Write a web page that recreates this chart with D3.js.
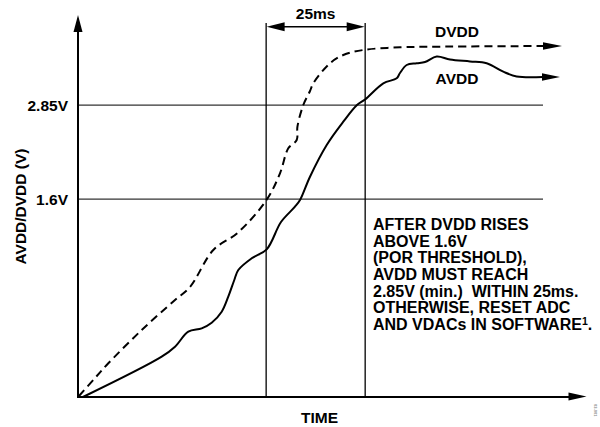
<!DOCTYPE html>
<html><head><meta charset="utf-8">
<script src="https://cdn.jsdelivr.net/npm/d3@7"></script>
<style>
html,body{margin:0;padding:0;background:#fff;}
text{font-family:"Liberation Sans",Arial,Helvetica,sans-serif;font-weight:bold;fill:#000;}
</style></head>
<body>
<svg id="chart" width="600" height="427"></svg>
<script>
// time in ms, level in % of axis height (schematic, not to scale)
const dvddT = [0.25,4.29,7.65,16.08,24.49,28.28,34.16,40.39,47.59,51.0,53.09,55.21,55.4,56.88,58.57,59.40,63.62,66.98,72.03,81.29,90.56,117.4];
const dvddV = [0.26,4.97,8.82,17.54,25.39,28.80,38.48,43.06,51.57,58.56,65.10,67.28,70.76,76.44,80.10,82.12,87.36,89.53,90.84,91.54,91.70,91.88];
const avddT = [1.26,21.13,24.49,27.85,31.23,33.75,36.28,37.94,39.46,40.47,43.85,47.64,51.25,54.78,56.05,58.57,62.79,66.98,70.44,72.46,77.08,80.46,81.29,82.98,85.51,87.60,90.56,93.92,98.97,103.18,107.37,110.75,117.39];
const avddV = [0,10.55,13.17,17.09,17.98,19.45,22.33,26.26,30.63,33.25,36.31,38.66,45.81,49.82,51.57,57.67,65.97,72.07,76.44,77.88,82.12,83.43,84.82,86.91,87.36,87.70,89.14,88.35,87.83,87.36,85.16,83.90,83.77];
const thresholdLevels = [51.8, 76.4];
const thresholdLabels = ["1.6V", "2.85V"];
const windowStart = 47.5, windowMs = 25;
const noteLines = ["AFTER DVDD RISES","ABOVE 1.6V","(POR THRESHOLD),","AVDD MUST REACH","2.85V (min.)  WITHIN 25ms.","OTHERWISE, RESET ADC","AND VDACs IN SOFTWARE"];

const svg = d3.select("#chart");
const x = d3.scaleLinear().domain([0,128]).range([78,585]);
const y = d3.scaleLinear().domain([0,100]).range([397,15]);
const FS = 15.5;

const lineEnd = 117.4;
// threshold lines
svg.selectAll(".thr").data(thresholdLevels).enter().append("line")
  .attr("x1", x(0)).attr("x2", x(lineEnd))
  .attr("y1", d=>y(d)).attr("y2", d=>y(d))
  .attr("stroke","#333").attr("stroke-width",1.3);

// window verticals
const wins = [windowStart, windowStart+windowMs];
svg.selectAll(".win").data(wins).enter().append("line")
  .attr("x1", d=>x(d)).attr("x2", d=>x(d))
  .attr("y1", y(97.9)).attr("y2", y(0))
  .attr("stroke","#000").attr("stroke-width",1.3);

// double arrow 25ms
const ay = y(96.9);
svg.append("line").attr("x1", x(wins[0])+10).attr("x2", x(wins[1])-10)
  .attr("y1", ay).attr("y2", ay).attr("stroke","#000").attr("stroke-width",1.5);
function tri(tipX, tipY, dir, len, half){
  let p;
  if(dir==='r') p=[[tipX,tipY],[tipX-len,tipY-half],[tipX-len,tipY+half]];
  else if(dir==='l') p=[[tipX,tipY],[tipX+len,tipY-half],[tipX+len,tipY+half]];
  else p=[[tipX,tipY],[tipX-half,tipY+len],[tipX+half,tipY+len]];
  svg.append("path").attr("d","M"+p.map(q=>q.join(",")).join("L")+"Z").attr("fill","#000");
}
tri(x(wins[0])+0.5, ay, 'l', 18, 4.5);
tri(x(wins[1])-0.5, ay, 'r', 18, 4.5);
svg.append("text").attr("x", (x(wins[0])+x(wins[1]))/2).attr("y", 19)
  .attr("text-anchor","middle").attr("font-size",FS).text(windowMs+"ms");

// axes
const yAxis = d3.axisLeft(y).tickValues(thresholdLevels)
  .tickFormat((d,i)=>thresholdLabels[i]).tickSize(0).tickPadding(10);
const gy = svg.append("g").attr("transform",`translate(${x(0)},0)`).call(yAxis);
gy.select(".domain").remove();
gy.selectAll("text").attr("font-size",FS).attr("font-family",null).attr("dy","0.36em");
svg.append("line").attr("x1",x(0)).attr("x2",x(0)).attr("y1",y(0)+1).attr("y2",y(100)+12)
  .attr("stroke","#000").attr("stroke-width",2);
tri(x(0), y(100), 'u', 17, 4.5);
svg.append("line").attr("x1",x(0)-1).attr("x2",x(128)-12).attr("y1",y(0)).attr("y2",y(0))
  .attr("stroke","#000").attr("stroke-width",2);
tri(x(128)+1.5, y(0)-0.5, 'r', 18, 4);

// curves
const line = d3.line().x(d=>x(d[0])).y(d=>y(d[1])).curve(d3.curveCatmullRom.alpha(0.5));
const dv = dvddT.map((t,i)=>[t,dvddV[i]]);
const av = avddT.map((t,i)=>[t,avddV[i]]);
svg.append("path").attr("d", line(dv)).attr("fill","none").attr("stroke","#000")
  .attr("stroke-width",2).attr("stroke-dasharray","8,5");
svg.append("path").attr("d", line(av)).attr("fill","none").attr("stroke","#000")
  .attr("stroke-width",2);
const dl = dv[dv.length-1], al = av[av.length-1];
svg.append("line").attr("x1",x(dl[0])).attr("x2",x(dl[0])+6).attr("y1",y(dl[1])).attr("y2",y(dl[1])).attr("stroke","#000").attr("stroke-width",2);
tri(x(dl[0])+19, y(dl[1]), 'r', 19, 3.8);
tri(x(al[0])+17, y(al[1]), 'r', 18, 3.8);

// series labels
svg.append("text").attr("x",457).attr("y",37).attr("text-anchor","middle").attr("font-size",FS).text("DVDD");
svg.append("text").attr("x",457).attr("y",84).attr("text-anchor","middle").attr("font-size",FS).text("AVDD");

// axis titles
svg.append("text").attr("x",319.5).attr("y",423).attr("text-anchor","middle").attr("font-size",FS).text("TIME");
svg.append("text").attr("transform","translate(26,206.5) rotate(-90)").attr("text-anchor","middle")
  .attr("font-size",FS).text("AVDD/DVDD (V)");

// note
const note = svg.append("text").attr("font-size",16);
noteLines.forEach((s,i)=>{
  note.append("tspan").attr("x",373).attr("y",230+i*16.67).attr("xml:space","preserve").style("white-space","pre").text(s);
});
note.append("tspan").attr("font-size",10.5).attr("dy",-5).text("1");
note.append("tspan").attr("dy",5).text(".");

// figure id
svg.append("text").attr("transform","translate(594,404) rotate(90)").attr("font-size",4)
  .attr("font-weight","normal").style("fill","#888").text("03-001");
</script>
</body></html>
